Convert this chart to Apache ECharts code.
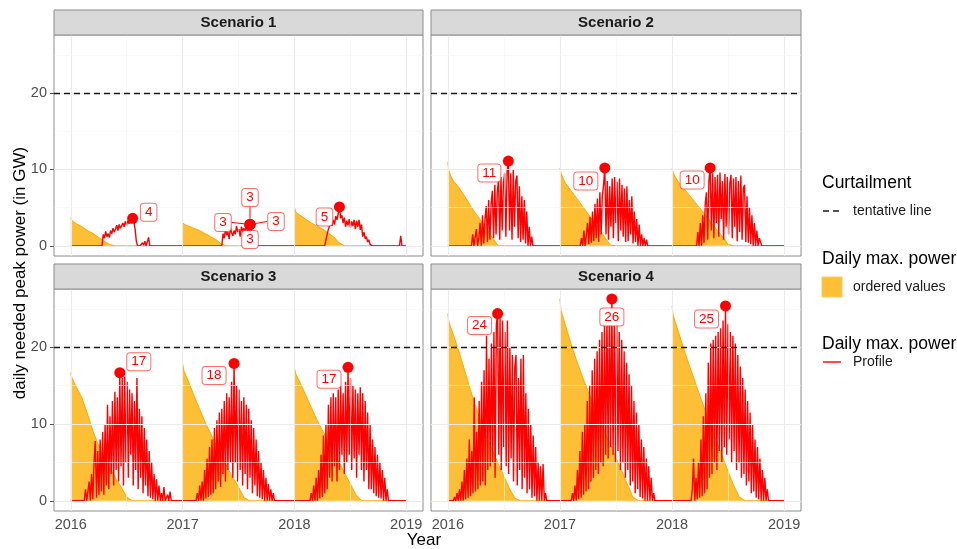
<!DOCTYPE html>
<html><head><meta charset="utf-8">
<script src="https://cdn.jsdelivr.net/npm/echarts@6/dist/echarts.min.js"></script>
<style>html,body{margin:0;padding:0;background:#fff}#c{width:957px;height:549px}</style>
</head><body><div id="c"></div><script>
// ---------------- data ----------------
const SCENARIOS = ['Scenario 1', 'Scenario 2', 'Scenario 3', 'Scenario 4'];
const YEARS = [2016, 2017, 2018];
const X_TICKS = [2016, 2017, 2018, 2019];
const X_MINOR = [2016.5, 2017.5, 2018.5];
const Y_TICKS = [0, 10, 20];
const Y_MINOR = [5, 15, 25];
const CURTAILMENT = 20;
const STEP_DAYS = 4;
// first day-of-year of each profile array [scenario][year]
const PROFILE_START = [[102, 128, 99], [77, 66, 80], [44, 44, 51], [18, 37, 62]];

// daily max. power profile (GW), one value every STEP_DAYS days
const s1_2016 = [0,1.5,1.0,1.9,1.2,1.6,1.1,2.0,1.6,2.3,1.8,2.2,2.7,2.0,2.8,2.3,2.1,3.0,2.5,3.2,2.7,3.3,2.9,3.4,3.0,3.6,3.1,2.2,0.6,0,0,0,0,0.4,0.1,0.6,0,0,1.1,0];
const s1_2017 = [0,1.6,1.0,2.2,1.4,1.8,0.9,2.4,1.7,1.3,2.0,1.5,2.6,1.8,2.2,1.2,2.5,1.9,2.3,2.0,2.4,2.0,1.5,2.8,1.9,1.2,0];
const s1_2018 = [0,0.8,1.5,2.2,2.0,3.0,2.6,3.4,2.8,3.9,3.4,4.2,5.1,3.6,4.0,3.0,3.7,2.5,3.3,2.7,3.5,2.4,3.2,2.6,3.4,2.2,3.3,2.5,3.4,2.1,2.8,1.2,1.8,0.9,1.2,0.5,0.8,0.2,0,0,0,0,0,0,0,0,0,0,0,0,0,0,0,0,0,0,0,0,0,0,0,0,1.3,0];
const s2_2016 = [0,1.5,0,0,2.2,0,1.0,3.0,0,4.0,0.3,3.5,5.2,0.5,6.0,0.8,5.5,7.2,1.0,8.0,1.5,7.0,8.6,0.8,9.0,2.0,8.2,9.5,1.2,9.8,11.1,2.0,9.5,0.8,10.0,2.5,8.5,9.2,1.0,7.8,0.5,6.5,0.8,6.0,0.3,4.5,0,2.5,0,1.2,0];
const s2_2017 = [0,1.0,0,2.0,0,1.5,3.0,0.2,3.8,0.4,4.5,0.6,5.5,1.0,6.2,0.5,7.0,1.5,6.5,8.0,10.2,1.5,8.5,0.8,7.8,2.5,8.8,1.0,9.0,3.0,8.4,0.6,8.8,2.0,8.0,1.2,7.5,0.5,7.8,0.6,6.0,1.5,6.5,0.3,4.5,0.5,3.5,0,2.8,0,1.5,0,1.0,0,0.8,0];
const s2_2018 = [0,1.8,0,3.0,0,4.0,0.4,5.5,7.0,0.8,8.5,10.2,2.0,9.5,1.0,9.0,3.0,9.3,1.2,9.6,3.5,8.5,0.8,9.4,2.5,9.0,1.5,8.2,9.3,1.0,8.8,2.5,9.0,0.6,8.5,1.8,9.2,0.8,7.5,8.0,0.5,6.5,0.4,5.0,0.2,4.0,0,3.0,0,2.0,0,1.0,0.5,0];
const s3_2016 = [0,1.5,0,0,2.5,0,3.5,0.2,5.0,7.8,0.4,6.5,0.8,8.0,1.2,9.0,0.8,10.0,2.0,12.5,1.5,11.0,3.5,13.0,2.0,14.2,4.0,13.5,2.5,16.7,4.5,16.0,2.0,16.2,5.0,15.5,3.0,14.5,6.0,14.0,2.0,13.0,4.0,16.0,1.5,12.0,3.0,11.0,1.0,9.5,2.0,8.0,0.6,6.5,0.4,5.0,0.2,3.5,0,2.8,0,2.0,0,1.0,0,1.8,0,0,0.8,0,1.2,0];
const s3_2017 = [0,1.0,0,2.0,0,2.5,0,4.0,0.3,5.5,0.5,7.0,0.8,8.0,1.0,9.5,1.5,10.5,2.5,11.5,1.8,12.0,3.5,13.0,2.5,14.0,4.0,13.5,5.0,15.5,3.0,17.9,5.0,15.0,2.5,14.5,4.0,13.0,2.0,13.5,3.5,12.5,1.5,12.0,3.0,10.5,1.0,9.5,2.0,8.0,0.6,6.5,0.4,5.0,0.2,4.0,0,3.0,0,2.2,0,1.5,0,1.0,0];
const s3_2018 = [0,1.0,0,2.0,0,3.0,0,4.0,0.3,6.0,0.5,8.5,1.0,10.0,1.5,12.5,3.0,13.5,2.5,14.0,4.5,13.5,2.5,14.5,4.0,15.0,6.0,14.0,3.5,15.5,5.0,17.4,6.0,16.0,4.0,15.0,5.5,14.5,3.0,14.0,6.0,14.8,4.0,14.0,2.5,13.0,4.0,11.5,1.5,10.0,1.5,8.0,1.0,7.0,0.6,6.0,0.4,5.0,0.3,4.0,0,3.0,0,1.5,0];
const s4_2016 = [0,0.5,0,1.0,0,1.5,0,2.5,0,4.0,0.2,5.5,0.4,8.0,0.6,6.5,1.0,13.5,1.2,9.0,1.5,13.0,2.0,15.5,2.5,17.0,2.0,21.5,4.0,18.5,4.5,20.5,5.0,22.0,3.0,23.0,24.4,6.0,23.8,4.0,23.5,7.0,22.0,4.5,23.5,3.5,20.0,5.5,19.0,2.5,17.5,19.0,2.0,16.0,4.0,18.5,1.5,19.0,3.0,14.0,1.0,12.0,1.5,10.0,0.4,8.5,0.6,7.0,0,5.0,0,4.5,0,4.8,0,1.0,0];
const s4_2017 = [0,1.0,0,2.0,0,4.0,0.2,6.5,0.4,9.0,0.8,10.0,1.2,13.0,1.5,15.0,2.5,17.0,3.0,18.5,4.0,19.5,3.5,21.0,5.0,22.0,4.5,23.0,6.0,24.0,5.5,25.0,7.0,26.3,6.0,24.5,5.0,23.0,6.5,22.0,4.0,21.0,5.0,19.5,3.0,18.0,4.0,16.5,2.0,15.0,2.5,13.0,1.0,11.5,1.5,10.0,0.5,8.0,0.3,7.0,0,5.5,0,4.5,0,3.0,0,1.0,0];
const s4_2018 = [0,1.5,5.5,0,3.0,0.2,5.0,0.4,8.0,0.6,11.0,1.0,14.0,1.5,18.0,3.0,20.5,3.5,21.0,5.0,21.5,4.0,22.0,6.5,22.5,5.0,23.5,7.0,25.4,6.0,23.0,8.0,22.0,5.0,21.5,6.5,20.5,4.0,19.0,5.0,17.5,3.0,16.0,3.5,14.5,2.0,13.0,2.5,11.5,1.0,10.0,1.2,8.0,0.4,7.0,0.2,5.5,0,4.0,0,3.0,0,1.5,0];

// ordered (descending) values, sampled at these fractions of the year
const ORDER_FRAC = [0,0.01,0.03,0.05,0.1,0.15,0.2,0.25,0.3,0.35,0.4,0.45,0.5,0.55,0.6,0.65,0.7,1.0];
const o1_2016 = [3.7,3.3,3.1,2.9,2.5,2.0,1.6,1.1,0.6,0.15,0,0,0,0,0,0,0,0];
const o1_2017 = [3.0,2.8,2.7,2.6,2.3,2.0,1.6,1.2,0.8,0.2,0,0,0,0,0,0,0,0];
const o1_2018 = [5.1,4.5,4.2,4.0,3.5,3.0,2.6,2.2,1.7,1.2,0.4,0,0,0,0,0,0,0];
const o2_2016 = [11.0,9.8,9.0,8.5,7.6,6.5,5.3,4.2,3.2,2.2,1.0,0,0,0,0,0,0,0];
const o2_2017 = [10.2,9.5,8.8,8.2,7.2,6.2,5.2,4.2,3.2,2.2,1.1,0.1,0,0,0,0,0,0];
const o2_2018 = [10.2,9.6,9.0,8.5,7.6,6.7,5.8,4.9,4.0,3.0,2.1,1.2,0.2,0,0,0,0,0];
const o3_2016 = [16.7,16.0,15.4,14.8,13.4,11.3,9.0,7.2,5.6,4.2,3.0,1.8,0.5,0,0,0,0,0];
const o3_2017 = [17.9,17.0,16.3,15.6,13.8,12.0,10.3,8.8,7.2,5.8,4.3,3.0,1.8,0.4,0,0,0,0];
const o3_2018 = [17.4,16.6,16.0,15.4,13.8,12.2,10.6,9.2,7.8,6.4,5.0,3.6,2.2,0.8,0,0,0,0];
const o4_2016 = [24.4,23.3,22.4,21.6,19.4,17.0,14.5,12.2,10.0,8.2,6.5,4.8,3.2,1.6,0.3,0,0,0];
const o4_2017 = [26.3,24.8,23.8,22.8,20.4,18.2,16.2,14.3,12.5,10.8,9.0,7.3,5.6,3.9,2.2,0.5,0,0];
const o4_2018 = [25.4,24.2,23.2,22.3,20.0,17.8,15.7,13.6,11.6,9.6,7.6,5.7,3.8,2.0,0.5,0,0,0];

const PROFILES = [[s1_2016, s1_2017, s1_2018], [s2_2016, s2_2017, s2_2018], [s3_2016, s3_2017, s3_2018], [s4_2016, s4_2017, s4_2018]];
const ORDERED = [[o1_2016, o1_2017, o1_2018], [o2_2016, o2_2017, o2_2018], [o3_2016, o3_2017, o3_2018], [o4_2016, o4_2017, o4_2018]];

// ---------------- layout / style ----------------
const FONT = 'Liberation Sans, Arial, sans-serif';
const X_MIN = 2015.85, X_MAX = 2019.15, Y_MIN = -1.33, Y_MAX = 27.6;
const GRIDS = [
  {left: 54, top: 35, width: 369, height: 221},
  {left: 431, top: 35, width: 370, height: 221},
  {left: 54, top: 289, width: 369, height: 222},
  {left: 431, top: 289, width: 370, height: 222}
];
const STRIP_H = 25;
// label displacement [dx, dy] per label (px), per scenario / year
const LABEL_SHIFT = [
  [[[16, -6]], [[0, -27], [-27, -2], [26, -3], [0, 15]], [[-15, 10]]],
  [[[-19, 12]], [[-19, 13]], [[-18, 12]]],
  [[[19, -11]], [[-20, 12]], [[-19, 12]]],
  [[[-18, 12]], [[0, 18]], [[-19, 13]]]
];
const RED = '#FF0000', ORANGE_FILL = '#FDBF35', ORANGE_LINE = '#FFA500';

const chart = echarts.init(document.getElementById('c'), null, {renderer: 'canvas'});
const grid = [], xAxis = [], yAxis = [], series = [], graphic = [];

GRIDS.forEach((g, p) => {
  const bottom = p >= 2, left = p % 2 === 0;
  grid.push(Object.assign({show: true, borderColor: '#8C8C8C', borderWidth: 1, backgroundColor: '#fff', containLabel: false}, g));
  xAxis.push({gridIndex: p, type: 'value', min: X_MIN, max: X_MAX,
    axisLine: {show: false}, splitLine: {show: false},
    axisTick: {show: bottom, customValues: X_TICKS, length: 4, lineStyle: {color: '#555'}},
    axisLabel: {show: bottom, customValues: X_TICKS, formatter: v => String(v), color: '#4D4D4D', fontSize: 14.5, fontFamily: FONT, margin: 6}});
  yAxis.push({gridIndex: p, type: 'value', min: Y_MIN, max: Y_MAX,
    axisLine: {show: false}, splitLine: {show: false},
    axisTick: {show: left, customValues: Y_TICKS, length: 4, lineStyle: {color: '#555'}},
    axisLabel: {show: left, customValues: Y_TICKS, color: '#4D4D4D', fontSize: 14.5, fontFamily: FONT, margin: 7}});

  // grid lines
  const gl = [];
  X_TICKS.forEach(v => gl.push({xAxis: v, lineStyle: {color: '#EBEBEB', width: 1.1, type: 'solid'}}));
  X_MINOR.forEach(v => gl.push({xAxis: v, lineStyle: {color: '#F3F3F3', width: 0.6, type: 'solid'}}));
  Y_TICKS.forEach(v => gl.push({yAxis: v, lineStyle: {color: '#EBEBEB', width: 1.1, type: 'solid'}}));
  Y_MINOR.forEach(v => gl.push({yAxis: v, lineStyle: {color: '#F3F3F3', width: 0.6, type: 'solid'}}));
  series.push({type: 'line', xAxisIndex: p, yAxisIndex: p, data: [[X_MIN, 0]], symbol: 'none', lineStyle: {opacity: 0}, z: 1, silent: true,
    markLine: {silent: true, symbol: 'none', label: {show: false}, animation: false, data: gl}});

  // ordered values (orange areas)
  YEARS.forEach((yr, k) => {
    series.push({name: 'ordered values', type: 'line', xAxisIndex: p, yAxisIndex: p, z: 2,
      data: ORDER_FRAC.map((f, i) => [yr + f, ORDERED[p][k][i]]),
      symbol: 'none', lineStyle: {color: ORANGE_LINE, width: 1}, areaStyle: {color: ORANGE_FILL, opacity: 1, origin: 0}});
  });

  // profile (red)
  const prof = [];
  YEARS.forEach((yr, k) => {
    prof.push([yr, 0]);
    PROFILES[p][k].forEach((v, i) => prof.push([yr + (PROFILE_START[p][k] + STEP_DAYS * i) / 365, v]));
  });
  prof.push([2019, 0]);
  series.push({name: 'Profile', type: 'line', xAxisIndex: p, yAxisIndex: p, z: 3, data: prof,
    symbol: 'none', lineStyle: {color: RED, width: 1.4}});

  // curtailment line
  series.push({type: 'line', xAxisIndex: p, yAxisIndex: p, data: [[X_MIN, CURTAILMENT]], symbol: 'none', lineStyle: {opacity: 0}, z: 4, silent: true,
    markLine: {silent: true, symbol: 'none', label: {show: false}, animation: false,
      data: [{yAxis: CURTAILMENT, lineStyle: {color: '#1A1A1A', width: 1.4, type: [6, 4]}}]}});

  // yearly peaks with labels
  YEARS.forEach((yr, k) => {
    const arr = PROFILES[p][k];
    let mi = 0;
    arr.forEach((v, i) => { if (v > arr[mi]) mi = i; });
    const pt = [yr + (PROFILE_START[p][k] + STEP_DAYS * mi) / 365, arr[mi]];
    LABEL_SHIFT[p][k].forEach((sh, j) => {
      const multi = LABEL_SHIFT[p][k].length > 1;
      series.push({type: 'scatter', xAxisIndex: p, yAxisIndex: p, z: 6 + j,
        data: [pt], symbolSize: 11, itemStyle: {color: RED, opacity: 1},
        label: {show: true, position: 'inside', formatter: String(Math.round(arr[mi])),
          color: RED, fontSize: 13.5, fontFamily: FONT, backgroundColor: '#fff',
          borderColor: 'rgba(255,60,60,0.75)', borderWidth: 1, borderRadius: 3, padding: [2, 4, 1, 4]},
        labelLayout: {dx: sh[0], dy: sh[1]},
        labelLine: {show: multi, lineStyle: {color: RED, width: 1}}});
    });
  });

  // strip
  graphic.push({type: 'rect', shape: {x: g.left, y: g.top - STRIP_H, width: g.width, height: STRIP_H},
    style: {fill: '#D9D9D9', stroke: '#8C8C8C', lineWidth: 1}, z: 10});
  graphic.push({type: 'text', x: g.left + g.width / 2, y: g.top - STRIP_H / 2, z: 11,
    style: {text: SCENARIOS[p], fill: '#1A1A1A', font: 'bold 15px ' + FONT, textAlign: 'center', textVerticalAlign: 'middle'}});
});

// axis titles
graphic.push({type: 'text', x: 20, y: 273, rotation: Math.PI / 2, z: 11,
  style: {text: 'daily needed peak power (in GW)', fill: '#000', font: '17px ' + FONT, textAlign: 'center', textVerticalAlign: 'middle'}});
graphic.push({type: 'text', x: 424, y: 540, z: 11,
  style: {text: 'Year', fill: '#000', font: '17px ' + FONT, textAlign: 'center', textVerticalAlign: 'middle'}});

// legend
const LX = 822;
graphic.push({type: 'text', x: LX, y: 183, style: {text: 'Curtailment', fill: '#000', font: '17.5px ' + FONT, textVerticalAlign: 'middle'}});
graphic.push({type: 'line', shape: {x1: LX + 1, y1: 211, x2: LX + 19, y2: 211}, style: {stroke: '#1A1A1A', lineWidth: 1.4, lineDash: [6, 4]}});
graphic.push({type: 'text', x: 853, y: 211, style: {text: 'tentative line', fill: '#1A1A1A', font: '14px ' + FONT, textVerticalAlign: 'middle'}});
graphic.push({type: 'text', x: LX, y: 259, style: {text: 'Daily max. power', fill: '#000', font: '17.5px ' + FONT, textVerticalAlign: 'middle'}});
graphic.push({type: 'rect', shape: {x: LX, y: 277, width: 20, height: 20}, style: {fill: ORANGE_FILL, stroke: '#FDCB5A', lineWidth: 1}});
graphic.push({type: 'text', x: 853, y: 287, style: {text: 'ordered values', fill: '#1A1A1A', font: '14px ' + FONT, textVerticalAlign: 'middle'}});
graphic.push({type: 'text', x: LX, y: 344, style: {text: 'Daily max. power', fill: '#000', font: '17.5px ' + FONT, textVerticalAlign: 'middle'}});
graphic.push({type: 'line', shape: {x1: LX + 1, y1: 362, x2: LX + 19, y2: 362}, style: {stroke: RED, lineWidth: 1.4}});
graphic.push({type: 'text', x: 853, y: 362, style: {text: 'Profile', fill: '#1A1A1A', font: '14px ' + FONT, textVerticalAlign: 'middle'}});

chart.setOption({animation: false, grid, xAxis, yAxis, series, graphic});
</script></body></html>
